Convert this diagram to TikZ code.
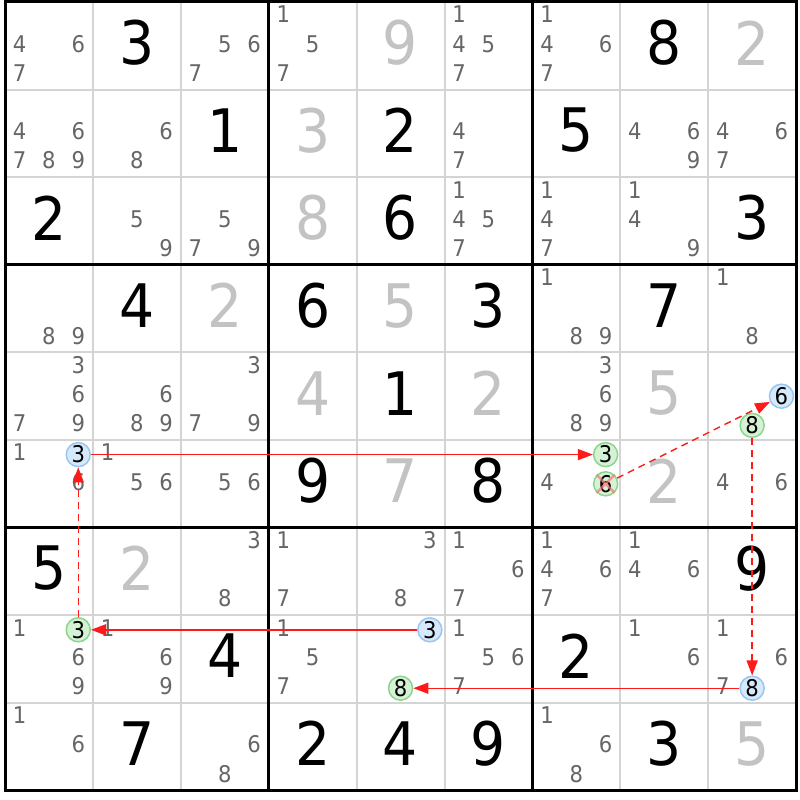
\documentclass[tikz,border=0pt]{standalone}
\usepackage{fontspec}
\setmainfont{DejaVu Sans}[FakeStretch=0.92]
\usetikzlibrary{arrows.meta}
\definecolor{thinc}{HTML}{D4D4D4}
\definecolor{candc}{HTML}{666666}
\definecolor{solvedc}{HTML}{C3C3C3}
\definecolor{gfill}{HTML}{D6F2D6}
\definecolor{gline}{HTML}{8CD68C}
\definecolor{bfill}{HTML}{D6E9FB}
\definecolor{bline}{HTML}{99C6F0}
\definecolor{arrowc}{HTML}{FF1A1A}
\tikzset{
 given/.style={inner sep=0pt, font=\fontsize{60}{62}\selectfont, text=black},
 solved/.style={given, text=solvedc},
 cand/.style={inner sep=0pt, font=\fontsize{23}{26}\selectfont, text=candc},
 gcirc/.style={circle, minimum size=24pt, inner sep=0pt, draw=gline, fill=gfill, line width=1.5pt, font=\fontsize{23}{26}\selectfont, text=black},
 bcirc/.style={gcirc, draw=bline, fill=bfill},
 link/.style={draw=arrowc, color=arrowc, line width=1.4pt, -{Triangle[length=15pt,width=11pt]}},
 weak/.style={link, dash pattern=on 7pt off 5pt},
 xmark/.style={draw=red!55, line width=2.5pt},
 thinline/.style={draw=thinc, line width=2pt},
 thickline/.style={draw=black, line width=3pt},
}
\begin{document}
\begin{tikzpicture}[x=1pt,y=-1pt]
\useasboundingbox (0,0) rectangle (800,800);
\fill[white] (0,0) rectangle (800,800);
\def\X{5}\def\Y{2}\def\W{87.9}\def\H{87.6}
% grid
\foreach \i in {1,2,4,5,7,8} {
 \draw[thinline] ({\X+\i*\W},\Y) -- ({\X+\i*\W},{\Y+9*\H});
 \draw[thinline] (\X,{\Y+\i*\H}) -- ({\X+9*\W},{\Y+\i*\H});
}
\foreach \i in {3,6} {
 \draw[thickline] ({\X+\i*\W},\Y) -- ({\X+\i*\W},{\Y+9*\H});
 \draw[thickline] (\X,{\Y+\i*\H}) -- ({\X+9*\W},{\Y+\i*\H});
}
\draw[thickline] (\X,\Y) rectangle ({\X+9*\W},{\Y+9*\H});
% given digits
\foreach \r/\c/\d in {1/2/3,1/8/8,2/3/1,2/5/2,2/7/5,3/1/2,3/5/6,3/9/3,4/2/4,4/4/6,4/6/3,4/8/7,5/5/1,6/4/9,6/6/8,7/1/5,7/9/9,8/3/4,8/7/2,9/2/7,9/4/2,9/5/4,9/6/9,9/8/3}
 \node[given] (g\r\c) at ({\X+(\c-0.5)*\W},{\Y+(\r-0.5)*\H-3}) {\d};
% solved digits
\foreach \r/\c/\d in {1/5/9,1/9/2,2/4/3,3/4/8,4/3/2,4/5/5,5/4/4,5/6/2,5/8/5,6/5/7,6/8/2,7/2/2,9/9/5}
 \node[solved] (s\r\c) at ({\X+(\c-0.5)*\W},{\Y+(\r-0.5)*\H-3}) {\d};
% candidates
\foreach \r/\c/\L in {1/1/{4,6,7},1/3/{5,6,7},1/4/{1,5,7},1/6/{1,4,5,7},1/7/{1,4,6,7},
 2/1/{4,6,7,8,9},2/2/{6,8},2/6/{4,7},2/8/{4,6,9},2/9/{4,6,7},
 3/2/{5,9},3/3/{5,7,9},3/6/{1,4,5,7},3/7/{1,4,7},3/8/{1,4,9},
 4/1/{8,9},4/7/{1,8,9},4/9/{1,8},
 5/1/{3,6,7,9},5/2/{6,8,9},5/3/{3,7,9},5/7/{3,6,8,9},
 6/1/{1,6},6/2/{1,5,6},6/3/{5,6},6/7/{4},6/9/{4,6},
 7/3/{3,8},7/4/{1,7},7/5/{3,8},7/6/{1,6,7},7/7/{1,4,6,7},7/8/{1,4,6},
 8/1/{1,6,9},8/2/{1,6,9},8/4/{1,5,7},8/6/{1,5,6,7},8/8/{1,6},8/9/{1,6,7},
 9/1/{1,6},9/3/{6,8},9/7/{1,6,8}} {
 \foreach \d in \L {
  \pgfmathtruncatemacro\sx{mod(\d-1,3)}
  \pgfmathtruncatemacro\sy{floor((\d-1)/3)}
  \node[cand] (c\r\c\d) at ({\X+(\c-1)*\W+(\sx+0.5)*\W/3},{\Y+(\r-1)*\H+(\sy+0.5)*\H/3-2}) {\d};
 }
}
% highlighted candidates
\node[bcirc] (b1) at (78.25,454.6) {3};
\node[gcirc] (g1) at (605.65,454.6) {3};
\node[gcirc] (g2) at (605.65,483.8) {6};
\node[bcirc] (b2) at (781.45,396.2) {6};
\node[gcirc] (g3) at (752.15,425.4) {8};
\node[bcirc] (b3) at (752.15,688.2) {8};
\node[gcirc] (g4) at (400.55,688.2) {8};
\node[bcirc] (b4) at (429.85,629.8) {3};
\node[gcirc] (g5) at (78.25,629.8) {3};
% chain
\draw[link] (b4.west) -- (g5.east);
\draw[link] (b1) -- (g1);
\draw[weak] (g2) -- (b2);
\draw[weak] (g3) -- (b3);
\draw[link] (b3) -- (g4);
\draw[weak] (g5) -- (b1);
\begin{scope}[opacity=0.7]
\draw[xmark] (g2.north west) -- (g2.south east) (g2.north east) -- (g2.south west);
\end{scope}
\end{tikzpicture}
\end{document}
